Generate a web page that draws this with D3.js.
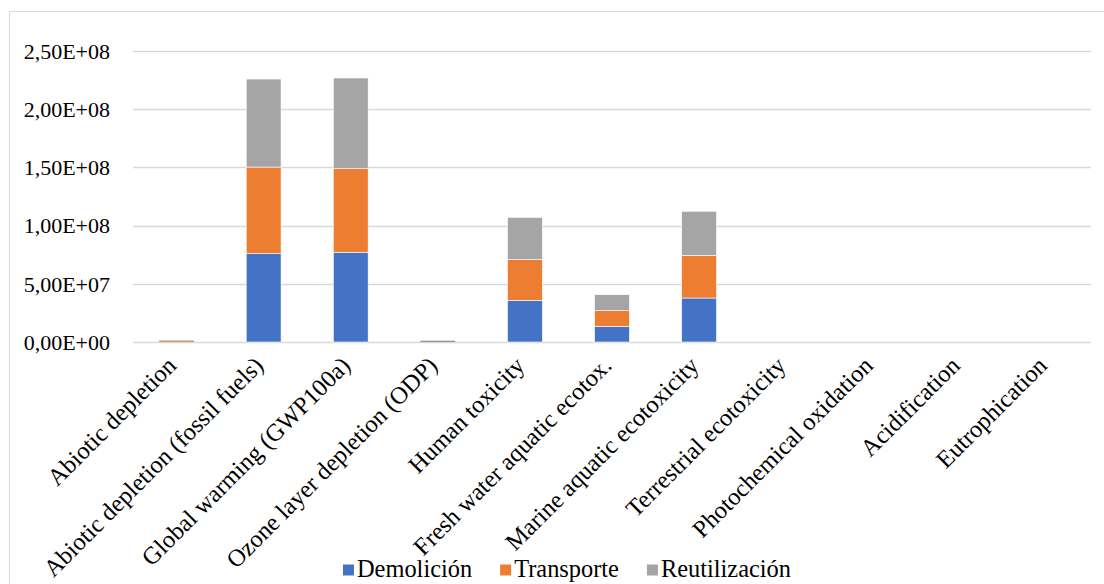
<html lang="es">
<head>
    <meta charset="UTF-8">
    <title>Impactos por etapa</title>
    <style>
        body { margin: 0; background: #fff; }
    </style>
</head>
<body>
<script src="https://d3js.org/d3.v7.min.js"></script>
<script>
const categories = [
    'Abiotic depletion',
    'Abiotic depletion (fossil fuels)',
    'Global warming (GWP100a)',
    'Ozone layer depletion (ODP)',
    'Human toxicity',
    'Fresh water aquatic ecotox.',
    'Marine aquatic ecotoxicity',
    'Terrestrial ecotoxicity',
    'Photochemical oxidation',
    'Acidification',
    'Eutrophication'
]
const seriesNames = ['Demolición', 'Transporte', 'Reutilización']
const demolicion    = [3.0e5, 7.59e7, 7.71e7, 6.0e5, 3.58e7, 1.35e7, 3.78e7, 0, 0, 0, 0]
const transporte    = [8.0e5, 7.44e7, 7.18e7, 3.0e5, 3.52e7, 1.34e7, 3.67e7, 0, 0, 0, 0]
const reutilizacion = [3.0e5, 7.56e7, 7.79e7, 3.0e5, 3.61e7, 1.37e7, 3.78e7, 0, 0, 0, 0]
const yTicks = [0, 5e7, 1e8, 1.5e8, 2e8, 2.5e8]
const yTickLabels = ['0,00E+00', '5,00E+07', '1,00E+08', '1,50E+08', '2,00E+08', '2,50E+08']

const colors = ['#4472C4', '#ED7D31', '#A5A5A5']
const font = "'Liberation Serif', serif"

const m = {
    width: 1104,
    height: 584,
    left: 133,
    right: 1091,
    top: 51,
    bottom: 342
}

const svg = d3.select('body').append('svg')
    .attr('width', m.width)
    .attr('height', m.height)
    .style('font-family', font)

// chart frame
svg.append('rect')
    .attr('x', 9.5)
    .attr('y', 11.5)
    .attr('width', 1110)
    .attr('height', 600)
    .attr('fill', 'none')
    .attr('stroke', '#d9d9d9')

const table = categories.map(function(c, i) {
    return { cat: c, 'Demolición': demolicion[i], 'Transporte': transporte[i], 'Reutilización': reutilizacion[i] }
})

const x = d3.scaleBand()
    .domain(categories)
    .range([m.left, m.right])
    .paddingInner(0.6)
    .paddingOuter(0.3)

const y = d3.scaleLinear()
    .domain([0, 2.5e8])
    .range([m.bottom, m.top])

// gridlines
svg.append('g')
    .selectAll('line')
    .data(yTicks)
    .enter()
    .append('line')
        .attr('x1', m.left)
        .attr('x2', m.right)
        .attr('y1', d => Math.round(y(d)) + 0.5)
        .attr('y2', d => Math.round(y(d)) + 0.5)
        .attr('stroke', '#d9d9d9')
        .attr('stroke-width', 1.5)

// y tick labels
svg.append('g')
    .selectAll('text')
    .data(yTicks)
    .enter()
    .append('text')
        .attr('x', 110)
        .attr('y', d => y(d))
        .attr('dy', '0.35em')
        .attr('text-anchor', 'end')
        .style('font-family', font)
        .style('font-size', '22px')
        .text((d, i) => yTickLabels[i])

// stacked bars
const stack = d3.stack().keys(seriesNames)(table)

svg.append('g')
    .selectAll('g')
    .data(stack)
    .enter()
    .append('g')
        .attr('fill', (d, i) => colors[i])
    .selectAll('rect')
    .data(d => d)
    .enter()
    .append('rect')
        .attr('x', d => x(d.data.cat))
        .attr('width', x.bandwidth())
        .attr('y', d => y(d[1]))
        .attr('height', d => Math.max(0, y(d[0]) - y(d[1])))
        .attr('stroke', d => (d[1] - d[0]) > 5e6 ? '#fff' : 'none')
        .attr('stroke-width', 0.6)

// category labels
svg.append('g')
    .selectAll('text')
    .data(categories)
    .enter()
    .append('text')
        .attr('transform', d => 'translate(' + (x(d) + x.bandwidth() / 2 + 1) + ',' + (m.bottom + 25) + ') rotate(-45)')
        .attr('text-anchor', 'end')
        .style('font-family', font)
        .style('font-size', '24.4px')
        .text(d => d)

// legend, laid out from the measured text widths
const legend = svg.append('g')
    .attr('transform', 'translate(343,576.5)')
const items = legend.selectAll('g')
    .data(seriesNames)
    .enter()
    .append('g')

items.append('rect')
    .attr('width', 11)
    .attr('height', 11)
    .attr('y', -12)
    .attr('fill', (d, i) => colors[i])

items.append('text')
    .attr('x', 14)
    .style('font-family', font)
    .style('font-size', '24.4px')
    .text(d => d)

let cx = 0
items.each(function() {
    const g = d3.select(this)
    g.attr('transform', 'translate(' + cx + ',0)')
    cx += 14 + g.select('text').node().getComputedTextLength() + 28
})
</script>
</body>
</html>
